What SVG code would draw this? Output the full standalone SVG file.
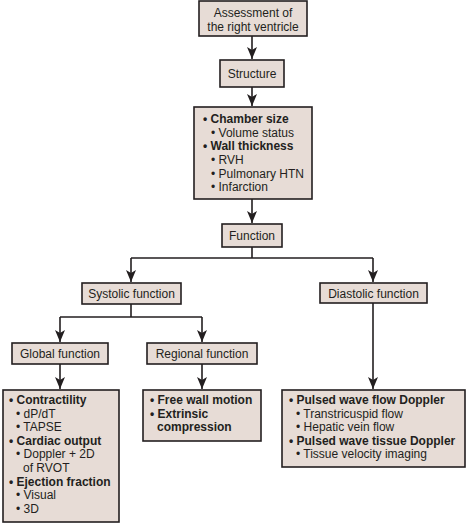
<svg xmlns="http://www.w3.org/2000/svg" width="466" height="523" viewBox="0 0 466 523">
<defs>
<style>
.box{fill:#e7dcd6;stroke:#231f20;stroke-width:1.6}
text{font-family:"Liberation Sans",Arial,sans-serif;font-size:12px;fill:#231f20}
.c{text-anchor:middle}
.b{font-weight:bold}
.ln{fill:none;stroke:#231f20;stroke-width:1.6}
</style>
<marker id="ah" markerWidth="12" markerHeight="10" viewBox="0 0 12 10" refX="12" refY="5" orient="auto" markerUnits="userSpaceOnUse">
<path d="M0,0 L12,5 L0,10 L3,5 Z" fill="#231f20"/>
</marker>
</defs>
<rect width="466" height="523" fill="#fff"/>
<g id="connectors">
<path class="ln" d="M252,36 V59" marker-end="url(#ah)"/>
<path class="ln" d="M252,87 V106" marker-end="url(#ah)"/>
<path class="ln" d="M252,199 V223" marker-end="url(#ah)"/>
<path class="ln" d="M252,247 V258 M131,258 H373"/>
<path class="ln" d="M131,258 V282" marker-end="url(#ah)"/>
<path class="ln" d="M373,258 V282" marker-end="url(#ah)"/>
<path class="ln" d="M131,304 V317 M60,317 H202"/>
<path class="ln" d="M60,317 V342" marker-end="url(#ah)"/>
<path class="ln" d="M202,317 V342" marker-end="url(#ah)"/>
<path class="ln" d="M60,364 V389" marker-end="url(#ah)"/>
<path class="ln" d="M202,364 V389" marker-end="url(#ah)"/>
<path class="ln" d="M373,303 V389" marker-end="url(#ah)"/>
</g>
<g id="assessment">
<rect class="box" x="199" y="1" width="108" height="35"/>
<text class="c" x="253" y="17">Assessment of</text>
<text class="c" x="253" y="31">the right ventricle</text>
</g>
<g id="structure">
<rect class="box" x="220" y="60" width="64" height="27"/>
<text class="c" x="252" y="78">Structure</text>
</g>
<g id="structure-details">
<rect class="box" x="194" y="107" width="118" height="92"/>
<text x="203" y="123" class="b">• Chamber size</text>
<text x="211" y="137">• Volume status</text>
<text x="203" y="150" class="b">• Wall thickness</text>
<text x="211" y="164">• RVH</text>
<text x="211" y="178">• Pulmonary HTN</text>
<text x="211" y="191">• Infarction</text>
</g>
<g id="function">
<rect class="box" x="222" y="224" width="60" height="23"/>
<text class="c" x="252" y="240">Function</text>
</g>
<g id="systolic">
<rect class="box" x="82" y="283" width="99" height="21"/>
<text class="c" x="131.5" y="298">Systolic function</text>
</g>
<g id="diastolic">
<rect class="box" x="320" y="283" width="107" height="20"/>
<text class="c" x="373.5" y="298">Diastolic function</text>
</g>
<g id="global">
<rect class="box" x="12" y="343" width="96" height="21"/>
<text class="c" x="60" y="358">Global function</text>
</g>
<g id="regional">
<rect class="box" x="147" y="343" width="110" height="21"/>
<text class="c" x="202" y="358">Regional function</text>
</g>
<g id="global-details">
<rect class="box" x="3" y="390" width="116" height="132"/>
<text x="9" y="404" class="b">• Contractility</text>
<text x="16" y="418">• dP/dT</text>
<text x="16" y="431">• TAPSE</text>
<text x="9" y="445" class="b">• Cardiac output</text>
<text x="16" y="458">• Doppler + 2D</text>
<text x="23" y="472">of RVOT</text>
<text x="9" y="486" class="b">• Ejection fraction</text>
<text x="16" y="499">• Visual</text>
<text x="16" y="513">• 3D</text>
</g>
<g id="regional-details">
<rect class="box" x="143" y="390" width="118" height="51"/>
<text x="150" y="404" class="b">• Free wall motion</text>
<text x="150" y="418" class="b">• Extrinsic</text>
<text x="157" y="431" class="b">compression</text>
</g>
<g id="diastolic-details">
<rect class="box" x="282" y="390" width="183" height="77"/>
<text x="289" y="404" class="b">• Pulsed wave flow Doppler</text>
<text x="296" y="418">• Transtricuspid flow</text>
<text x="296" y="431">• Hepatic vein flow</text>
<text x="289" y="445" class="b">• Pulsed wave tissue Doppler</text>
<text x="296" y="458">• Tissue velocity imaging</text>
</g>
</svg>
